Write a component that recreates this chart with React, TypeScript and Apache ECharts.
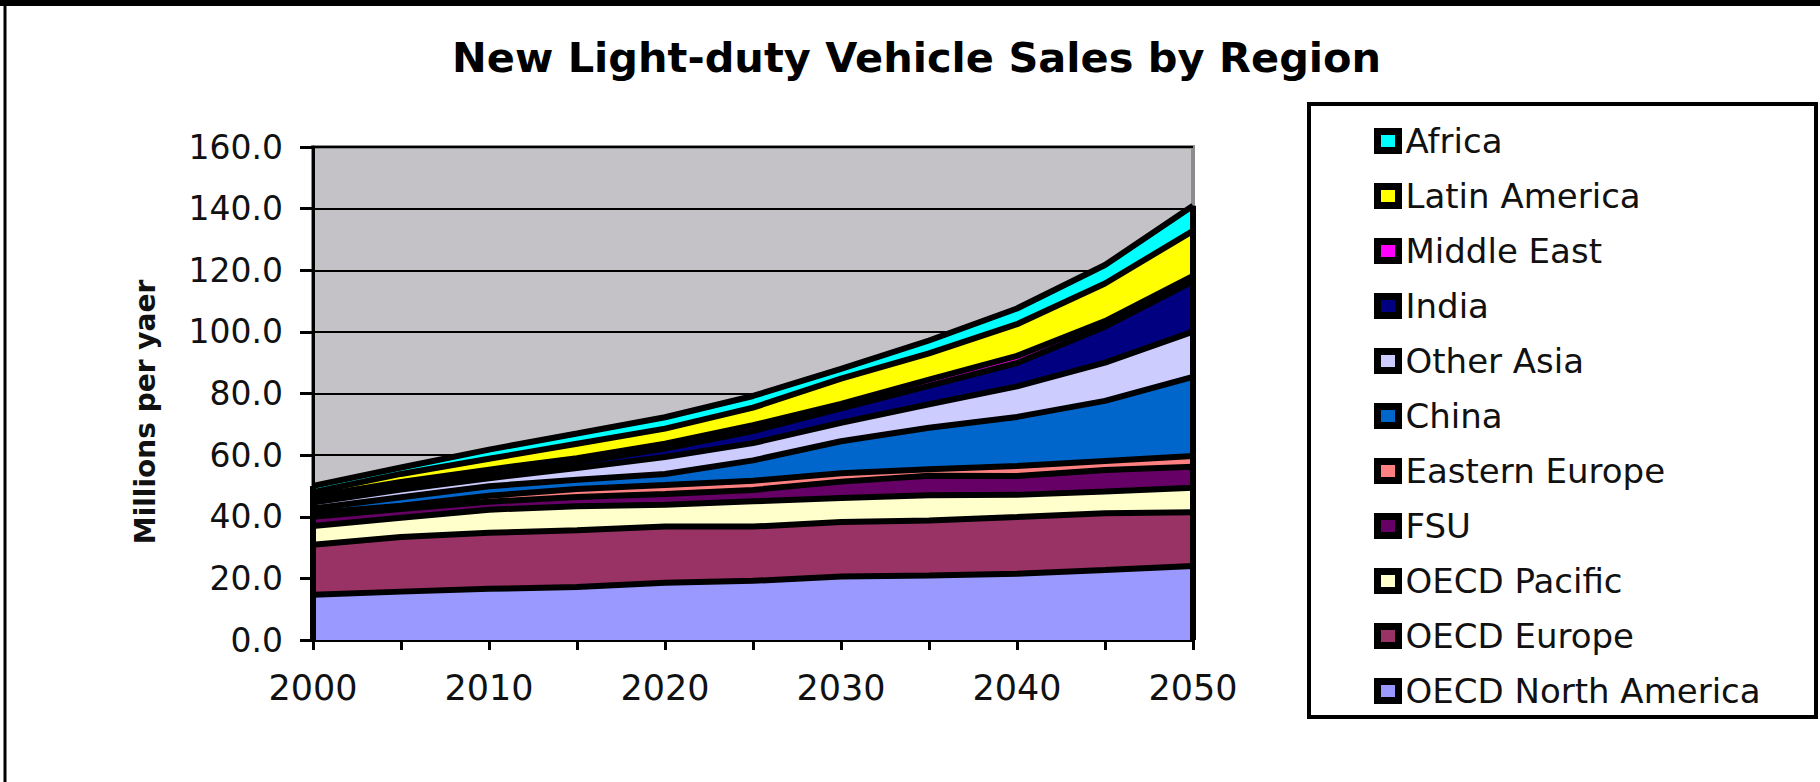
import React, { useEffect, useRef } from "react";
import * as echarts from "echarts";

const years = ["2000", "2005", "2010", "2015", "2020", "2025", "2030", "2035", "2040", "2045", "2050"];
const seriesNames = [
  "OECD North America",
  "OECD Europe",
  "OECD Pacific",
  "FSU",
  "Eastern Europe",
  "China",
  "Other Asia",
  "India",
  "Middle East",
  "Latin America",
  "Africa",
];
const oecdNorthAmerica = [14.7, 15.7, 16.6, 17.2, 18.6, 19.2, 20.6, 20.9, 21.5, 22.7, 24.0];
const oecdEurope = [16.2, 17.7, 18.2, 18.4, 18.2, 17.6, 17.7, 17.9, 18.4, 18.4, 17.5];
const oecdPacific = [6.1, 6.3, 7.5, 7.8, 7.1, 8.2, 7.8, 8.2, 7.2, 7.1, 7.9];
const fsu = [3.0, 2.8, 2.6, 3.0, 3.5, 3.7, 5.3, 6.3, 6.1, 7.0, 6.8];
const easternEurope = [1.2, 1.1, 1.9, 2.6, 2.9, 3.0, 2.7, 2.1, 3.3, 2.9, 3.5];
const china = [1.5, 2.7, 3.1, 3.0, 3.6, 6.6, 10.4, 13.5, 15.9, 19.5, 25.7];
const otherAsia = [1.9, 2.5, 2.6, 3.8, 5.5, 5.6, 6.0, 7.6, 9.9, 12.4, 14.7];
const india = [1.0, 1.4, 1.6, 1.9, 2.7, 3.9, 4.7, 6.0, 7.6, 11.7, 16.3];
const middleEast = [1.0, 1.1, 1.2, 1.3, 1.6, 1.9, 1.4, 2.0, 2.3, 1.8, 1.8];
const latinAmerica = [1.4, 2.6, 3.5, 4.7, 4.9, 5.7, 8.2, 8.5, 10.3, 12.2, 14.6];
const africa = [2.0, 2.1, 3.0, 3.3, 3.7, 3.8, 3.2, 4.2, 5.1, 6.0, 8.1];
const yTicks = [0, 20, 40, 60, 80, 100, 120, 140, 160];

const colors = [
  "#9999FF",
  "#993366",
  "#FFFFCC",
  "#660066",
  "#FF8080",
  "#0066CC",
  "#CCCCFF",
  "#000080",
  "#FF00FF",
  "#FFFF00",
  "#00FFFF",
];

const layers = [
  oecdNorthAmerica,
  oecdEurope,
  oecdPacific,
  fsu,
  easternEurope,
  china,
  otherAsia,
  india,
  middleEast,
  latinAmerica,
  africa,
];

export default function App() {
  const ref = useRef<HTMLDivElement>(null);
  useEffect(() => {
    if (!ref.current) return;
    const chart = echarts.init(ref.current, null, { renderer: "svg" });
    const totals = years.map((_, j) => layers.reduce((s, l) => s + l[j], 0));
    const last = years.length - 1;

    const areaSeries = layers.map((vals, i) => ({
      type: "line",
      name: seriesNames[i],
      stack: "area",
      data: vals,
      symbol: "none",
      lineStyle: { width: 0, opacity: 0 },
      areaStyle: { color: colors[i], opacity: 1 },
      itemStyle: { color: colors[i] },
      z: 2,
      silent: true,
    }));
    const borderSeries = layers.map((vals, i) => ({
      type: "line",
      name: "border" + i,
      stack: "borders",
      data: vals,
      symbol: "none",
      lineStyle: { color: "#000", width: 6 },
      z: 3,
      silent: true,
    }));
    const edgeSeries = [
      {
        type: "line",
        name: "edgeRight",
        data: [
          [last, 0],
          [last, totals[last]],
        ],
        symbol: "none",
        lineStyle: { color: "#000", width: 6 },
        z: 3,
        silent: true,
      },
      {
        type: "line",
        name: "edgeLeft",
        data: [
          [0, 0],
          [0, totals[0]],
        ],
        symbol: "none",
        lineStyle: { color: "#000", width: 6 },
        z: 3,
        silent: true,
      },
    ];

    chart.setOption({
      animation: false,
      backgroundColor: "#fff",
      title: {
        text: "New Light-duty Vehicle Sales by Region",
        left: 447,
        top: 31,
        textStyle: {
          fontFamily: "DejaVu Sans",
          fontWeight: "bold",
          fontSize: 41.5,
          color: "#000",
        },
      },
      legend: {
        orient: "vertical",
        left: 1369,
        top: 119,
        itemWidth: 21,
        itemHeight: 19,
        itemGap: 21,
        icon: "rect",
        data: [...seriesNames].reverse(),
        itemStyle: { borderColor: "#000", borderWidth: 7 },
        textStyle: {
          fontFamily: "DejaVu Sans",
          fontSize: 34,
          lineHeight: 34,
          color: "#111",
          padding: [0, 0, 0, 2],
        },
      },
      grid: {
        left: 313,
        right: 627,
        top: 147,
        bottom: 142,
        show: true,
        backgroundColor: "#C4C2C6",
        borderColor: "#8c8c8c",
        borderWidth: 4,
      },
      xAxis: {
        type: "category",
        data: years,
        boundaryGap: false,
        axisLine: { show: true, lineStyle: { color: "#000", width: 3 } },
        axisTick: { show: true, inside: false, interval: 0, length: 10, lineStyle: { color: "#000", width: 3 } },
        splitLine: { show: false },
        axisLabel: {
          interval: 1,
          margin: 30,
          fontFamily: "DejaVu Sans",
          fontSize: 35,
          color: "#111",
        },
      },
      yAxis: {
        type: "value",
        min: yTicks[0],
        max: yTicks[yTicks.length - 1],
        interval: 20,
        axisLine: { show: true, lineStyle: { color: "#000", width: 3 } },
        axisTick: { show: true, inside: false, length: 13, lineStyle: { color: "#000", width: 3 } },
        splitLine: { show: true, lineStyle: { color: "#000", width: 2 } },
        axisLabel: {
          margin: 30,
          fontFamily: "DejaVu Sans",
          fontSize: 33,
          color: "#111",
          formatter: (v: number) => v.toFixed(1),
        },
      },
      graphic: [
        {
          type: "text",
          x: 145,
          y: 412,
          rotation: Math.PI / 2,
          style: {
            text: "Millions per yaer",
            fontFamily: "DejaVu Sans",
            fontWeight: "bold",
            fontSize: 28,
            fill: "#111",
            textAlign: "center",
            textVerticalAlign: "middle",
          },
          z: 10,
        },
        {
          type: "rect",
          shape: { x: 1309, y: 104, width: 507, height: 613 },
          style: { fill: "none", stroke: "#000", lineWidth: 4 },
          z: 10,
        },
        {
          type: "line",
          shape: { x1: 0, y1: 3, x2: 1820, y2: 3 },
          style: { stroke: "#000", lineWidth: 6 },
          z: 10,
        },
        {
          type: "line",
          shape: { x1: 5, y1: 0, x2: 5, y2: 782 },
          style: { stroke: "#000", lineWidth: 3 },
          z: 10,
        },
      ],
      series: [...areaSeries, ...borderSeries, ...edgeSeries],
    });
    return () => chart.dispose();
  }, []);
  return (
    <div
      ref={ref}
      style={{ position: "absolute", left: 0, top: 0, width: 1820, height: 782 }}
    />
  );
}
